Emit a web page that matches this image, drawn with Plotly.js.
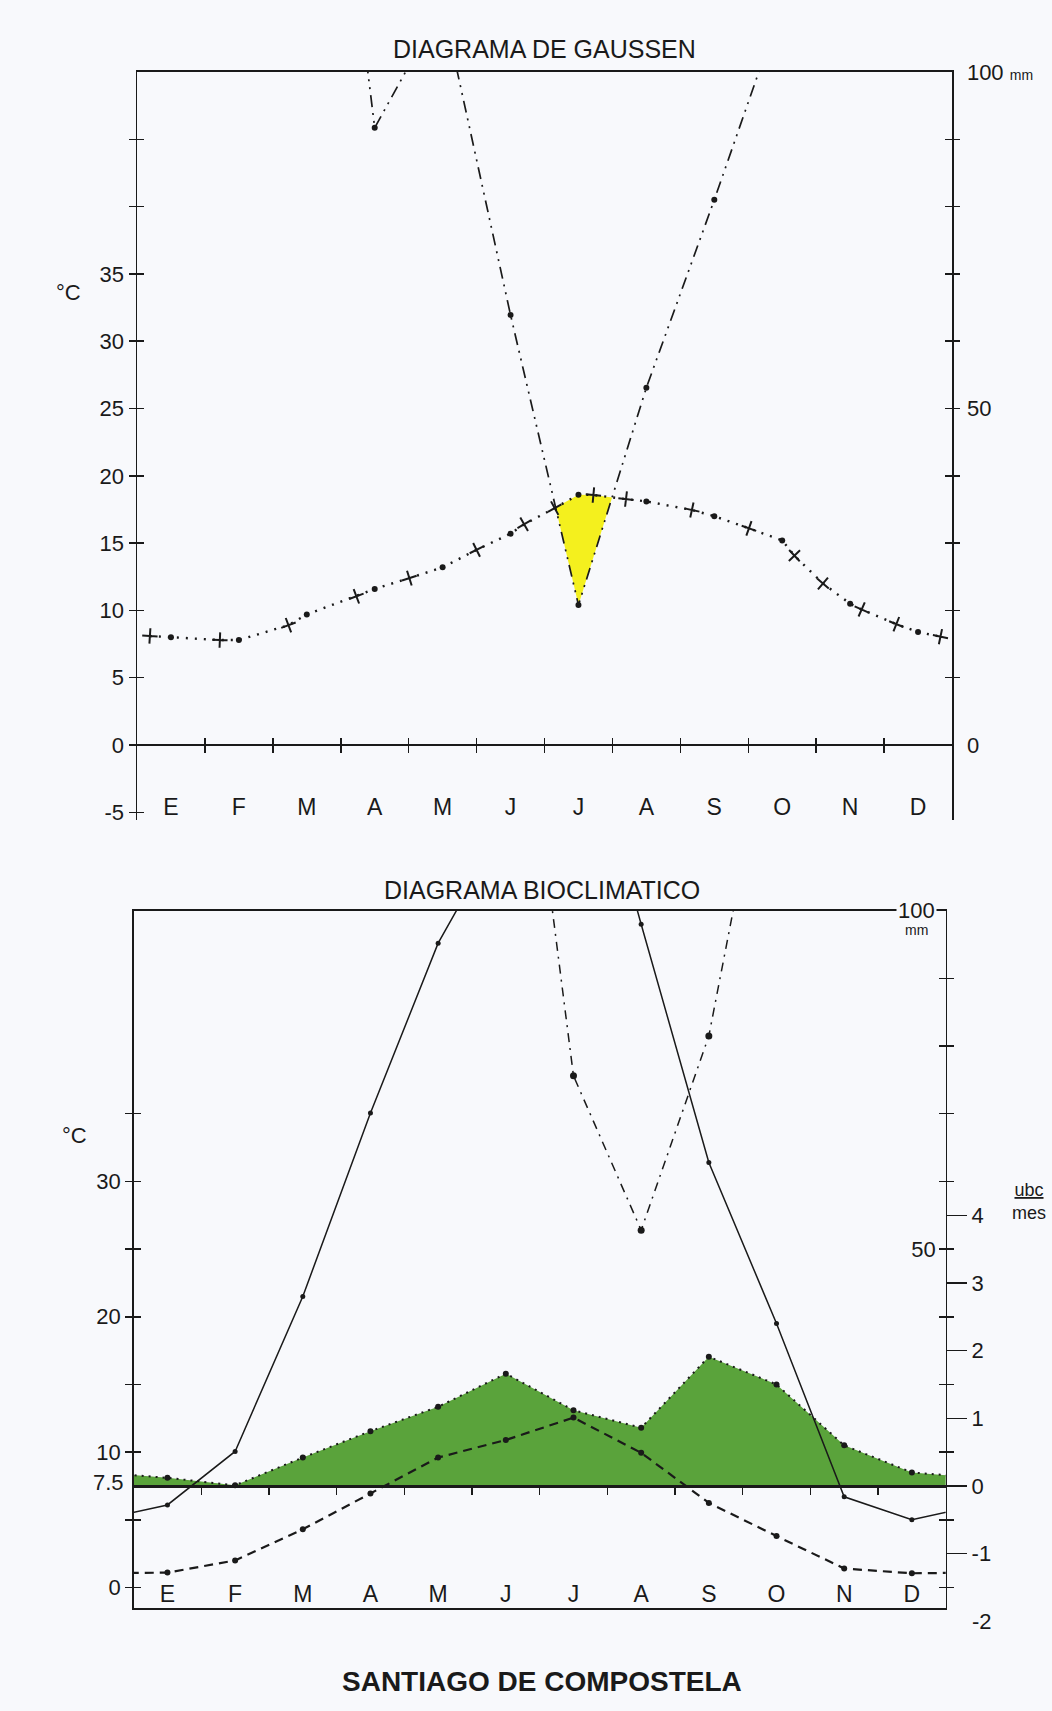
<!DOCTYPE html>
<html><head><meta charset="utf-8">
<script src="https://cdn.plot.ly/plotly-3.0.1.min.js"></script>
<style>html,body{margin:0;padding:0;background:#f8f9fc;}#chart{width:1052px;height:1711px;}</style>
</head><body><div id="chart"></div>
<script>
// ================= DATA =================
const meses  = ['E','F','M','A','M','J','J','A','S','O','N','D'];
const mesNum = [1,2,3,4,5,6,7,8,9,10,11,12];

// --- Diagrama de Gaussen ---
const tempMedia   = [8.0, 7.8, 9.7, 11.6, 13.2, 15.7, 18.6, 18.1, 17.0, 15.2, 10.5, 8.4];      // °C (puntos)
const tempCrucesX = [0.69,1.72,2.73,3.73,4.51,5.5,6.2,6.65,7.22,7.7,8.67,9.51,10.18,10.6,11.17,11.68,12.33];
const tempCrucesY = [8.1, 7.8, 8.9, 11.05,12.4,14.5,16.4,17.6,18.57,18.27,17.46,16.1,14.07,12.0,10.07,8.98,8.05];
const precipGaussen = [200, 190, 174, 91.7, 110, 63.9, 20.8, 53.1, 81.0, 110, 190, 210];   // mm (E,F,N,D fuera de escala)

// --- Diagrama bioclimatico ---
const curvaContinua  = [12.2, 20.1, 43.0, 70.1, 95.2, 113, 134, 98, 62.8, 39.0, 13.4, 10.0]; // mm
const curvaPuntoRaya = [220, 200, 190, 180, 170, 154, 75.6, 52.8, 81.5, 133, 190, 210];      // mm
const ibPotencial    = [0.12, 0.01, 0.42, 0.81, 1.17, 1.66, 1.12, 0.86, 1.91, 1.50, 0.60, 0.20]; // ubc/mes
const ibLibre        = [-1.28,-1.10,-0.64,-0.11, 0.42, 0.68, 1.01, 0.49,-0.25,-0.74,-1.22,-1.29]; // ubc/mes

// --- ticks ---
const gTempTicks  = [-5,0,5,10,15,20,25,30,35,40,45];
const gTempLabels = ['-5','0','5','10','15','20','25','30','35','',''];
const gPrecTicks  = [0,10,20,30,40,50,60,70,80,90,100];
const gPrecLabelVals = [0,50,100];
const gPrecLabels = ['0','50','100 <span style="font-size:14px">mm</span>'];
const bTempTicks  = [0,5,10,15,20,25,30,35];
const bTempLabels = ['0','','10','','20','','30',''];
const bUbcTicks   = [-1,0,1,2,3,4];
const bUbcHalf    = [-1.5,-0.5,0.5,1.5,2.5,3.5,4.5];
const bMmTicks    = [60,70,80,90];
const bMmLabelVal = 50;
const bUbcBelow   = -2;

// ================= LAYOUT CONSTANTS =================
const W = 1052, H = 1711;
const bg = '#f8f9fc', ink = '#1a1a1a';
const topBox = {x0:137, x1:952, yTop:72, yBot:820.4};
const botBox = {x0:133.6, x1:945.7, yTop:910.7, yBot:1607.8};
const dom = b => [(H - b.yBot)/H, (H - b.yTop)/H];
const topX = [topBox.x0/W, topBox.x1/W], topY = dom(topBox);
const botX = [botBox.x0/W, botBox.x1/W], botY = dom(botBox);
const xRange = [0.5, 12.5];
const topT = [-5.6, 50], topMm = [topT[0]*2, topT[1]*2];
const botT = [-1.5, 50];
const toUbc = t => (t - 7.5)/5;           // 1 ubc = 5 °C, 0 ubc = 7.5 °C
const mmToUbc = mm => toUbc(mm/2);        // P = 2T
const botUbc = [toUbc(botT[0]), toUbc(botT[1])];
const botMm = [botT[0]*2, botT[1]*2];
const paperY = (d, r, v) => d[0] + (v - r[0])/(r[1]-r[0])*(d[1]-d[0]);
const limites = mesNum.slice(0,-1).map(m => m + 0.5);

// ================= DERIVED =================
const tAll = mesNum.map((x,i)=>({x, y:tempMedia[i]}))
  .concat(tempCrucesX.map((x,i)=>({x, y:tempCrucesY[i]})))
  .sort((a,b)=>a.x-b.x);
const tLineX = tAll.map(p=>p.x), tLineY = tAll.map(p=>p.y);
const pHalf = precipGaussen.map(v => v/2);

function lin(xs, ys, x){
  for (let i=0;i<xs.length-1;i++) if (x>=xs[i] && x<=xs[i+1])
    return ys[i] + (x-xs[i])/(xs[i+1]-xs[i])*(ys[i+1]-ys[i]);
  return NaN;
}
function zonaSeca(tx, ty, px, py){
  const lo = Math.max(tx[0], px[0]), hi = Math.min(tx[tx.length-1], px[px.length-1]);
  const xs = [...new Set([...tx, ...px])].filter(x=>x>=lo && x<=hi).sort((a,b)=>a-b);
  const pts = [];
  xs.forEach((x,i)=>{
    const d = lin(tx,ty,x) - lin(px,py,x);
    if (i>0){ const p = pts[pts.length-1];
      if (p.d*d < 0) pts.push({x: p.x + (x-p.x)*p.d/(p.d-d), d:0}); }
    pts.push({x, d});
  });
  const ox=[], oy=[]; let cur=[];
  const flush = () => {
    if (cur.length>1 && cur.some(p=>p.d>0)){
      cur.forEach(p=>{ox.push(p.x); oy.push(lin(tx,ty,p.x));});
      cur.slice().reverse().forEach(p=>{ox.push(p.x); oy.push(lin(px,py,p.x));});
      ox.push(null); oy.push(null);
    }
    cur=[];
  };
  pts.forEach(p=>{ if (p.d>=0) cur.push(p); else flush(); });
  flush();
  return {x:ox, y:oy};
}
const seca = zonaSeca(tLineX, tLineY, mesNum, pHalf);

// cross orientation along the curve
const pxX = (topBox.x1-topBox.x0)/(xRange[1]-xRange[0]);
const pxY = (topBox.yBot-topBox.yTop)/(topT[1]-topT[0]);
const crossAngles = tempCrucesX.map(x=>{
  const i = tLineX.indexOf(x);
  const a = Math.max(0,i-1), b = Math.min(tLineX.length-1,i+1);
  const s = (tLineY[b]-tLineY[a])*pxY/((tLineX[b]-tLineX[a])*pxX);
  return -Math.atan(s)*180/Math.PI;
});

const xWrap = [0, ...mesNum, 13];
const wrap = a => [a[a.length-1], ...a, a[0]];

// ================= TRACES =================
const empty = (xa, ya) => ({x:[], y:[], xaxis:xa, yaxis:ya, mode:'lines', hoverinfo:'skip', showlegend:false});
const traces = [
  // --- Gaussen ---
  {x:seca.x, y:seca.y, xaxis:'x', yaxis:'y', mode:'lines', fill:'toself',
   fillcolor:'#f4f01e', line:{width:0, color:'rgba(0,0,0,0)'}, hoverinfo:'skip'},
  {x:tLineX, y:tLineY, xaxis:'x', yaxis:'y', mode:'lines',
   line:{color:ink, width:2.4, dash:'2px,7px'}},
  {x:mesNum, y:tempMedia, xaxis:'x', yaxis:'y', mode:'markers',
   marker:{symbol:'circle', size:6, color:ink}},
  {x:tempCrucesX, y:tempCrucesY, xaxis:'x', yaxis:'y', mode:'markers',
   marker:{symbol:'cross-thin', size:11, angle:crossAngles, color:ink, line:{width:2, color:ink}}},
  {x:mesNum, y:precipGaussen, xaxis:'x', yaxis:'y2', mode:'lines+markers',
   line:{color:ink, width:1.7, dash:'12px,6px,2px,6px,2px,6px'},
   marker:{symbol:'circle', size:6, color:ink}},
  // --- Bioclimatico ---
  empty('x2','y7'),
  {x:xWrap, y:wrap(ibPotencial), xaxis:'x2', yaxis:'y9', mode:'lines+markers', fill:'tozeroy',
   fillcolor:'#5aa33b', line:{color:ink, width:2, dash:'2px,5px'},
   marker:{symbol:'circle', size:6, color:ink}},
  {x:xWrap, y:wrap(ibLibre), xaxis:'x2', yaxis:'y9', mode:'lines+markers',
   line:{color:ink, width:2.2, dash:'9px,6px'}, marker:{symbol:'circle', size:6, color:ink}},
  {x:xWrap, y:wrap(curvaContinua), xaxis:'x2', yaxis:'y13', mode:'lines+markers',
   line:{color:ink, width:1.5}, marker:{symbol:'circle', size:5, color:ink}},
  {x:mesNum, y:curvaPuntoRaya, xaxis:'x2', yaxis:'y13', mode:'lines+markers',
   line:{color:ink, width:1.5, dash:'9px,6px,2px,6px'}, marker:{symbol:'circle', size:7, color:ink}}
];
// empty traces so that every decorative overlay axis gets its own subplot and is drawn
[['x3','y'],['x5','y'],['x7','y'],['x','y3'],['x','y4'],['x','y6'],
 ['x4','y7'],['x6','y7'],['x2','y8'],['x2','y10'],['x2','y11'],['x2','y12']].forEach(([xa,ya])=>
  traces.push(empty(xa, ya)));

// ================= AXES =================
const base = {showgrid:false, zeroline:false, fixedrange:true, tickcolor:ink, tickwidth:1.5, linecolor:ink};
const fTick = {size:22, color:ink};
const layout = {
  width:W, height:H, margin:{l:0,r:0,t:0,b:0,pad:0},
  paper_bgcolor:bg, plot_bgcolor:bg, showlegend:false,
  font:{family:'"Liberation Sans", Arial, Helvetica, sans-serif', color:ink},
  // ---- top chart ----
  xaxis: {...base, domain:topX, range:xRange, anchor:'y', tickvals:mesNum, ticktext:meses, ticks:'',
          showline:false, tickfont:{size:23}, ticklabelstandoff:-29},
  xaxis3:{...base, overlaying:'x', anchor:'free', position:paperY(topY, topT, 0), range:xRange,
          tickvals:limites, ticks:'outside', ticklen:7, showticklabels:false, showline:true, linewidth:2.2, layer:'above traces'},
  xaxis5:{...base, overlaying:'x', anchor:'free', position:paperY(topY, topT, 0), range:xRange,
          tickvals:limites, ticks:'inside', ticklen:7, showticklabels:false, showline:false},
  xaxis7:{...base, overlaying:'x', anchor:'y', side:'top', range:xRange, ticks:'', showticklabels:false,
          showline:true, linewidth:2.4},
  yaxis: {...base, domain:topY, range:topT, anchor:'x', side:'left', showline:true, linewidth:1.5,
          ticks:'outside', ticklen:7, tickvals:gTempTicks, ticktext:gTempLabels, tickfont:fTick, layer:'above traces'},
  yaxis3:{...base, overlaying:'y', anchor:'x', side:'left', range:topT, ticks:'inside', ticklen:7,
          tickvals:gTempTicks, showticklabels:false, showline:false},
  yaxis2:{...base, overlaying:'y', anchor:'x', side:'right', range:topMm, showline:true, linewidth:1.5,
          ticks:'', tickvals:gPrecLabelVals, ticktext:gPrecLabels, tickfont:fTick, ticklabelstandoff:9, layer:'above traces'},
  yaxis4:{...base, overlaying:'y', anchor:'x', side:'right', range:topMm, ticks:'outside', ticklen:7,
          tickvals:gPrecTicks.filter(v=>v>0 && v<100), showticklabels:false, showline:false},
  yaxis6:{...base, overlaying:'y', anchor:'x', side:'right', range:topMm, ticks:'inside', ticklen:7,
          tickvals:gPrecTicks.filter(v=>v>0 && v<100), showticklabels:false, showline:false},
  // ---- bottom chart ----
  xaxis2:{...base, domain:botX, range:xRange, anchor:'y7', tickvals:mesNum, ticktext:meses, ticks:'',
          showline:true, linewidth:2.2, tickfont:{size:23}, ticklabelstandoff:-36, layer:'above traces'},
  xaxis4:{...base, overlaying:'x2', anchor:'free', position:paperY(botY, botT, 7.5), range:xRange,
          tickvals:limites, ticks:'outside', ticklen:7, showticklabels:false, showline:true, linewidth:2.6, layer:'above traces'},
  xaxis6:{...base, overlaying:'x2', anchor:'y7', side:'top', range:xRange, ticks:'', showticklabels:false,
          showline:true, linewidth:2.2},
  yaxis7:{...base, domain:botY, range:botT, anchor:'x2', side:'left', showline:true, linewidth:1.5,
          ticks:'outside', ticklen:7, tickvals:bTempTicks, ticktext:bTempLabels, tickfont:fTick, layer:'above traces'},
  yaxis8:{...base, overlaying:'y7', anchor:'x2', side:'left', range:botT, ticks:'inside', ticklen:7,
          tickvals:bTempTicks, showticklabels:false, showline:false},
  yaxis9:{...base, overlaying:'y7', anchor:'x2', side:'right', range:botUbc, showline:true, linewidth:1.5,
          ticks:'outside', ticklen:20, tickvals:bUbcTicks, ticktext:bUbcTicks.map(String), tickfont:fTick, layer:'above traces'},
  yaxis10:{...base, overlaying:'y7', anchor:'x2', side:'right', range:botUbc, ticks:'outside', ticklen:7,
          tickvals:[...bUbcHalf, ...bMmTicks.map(mmToUbc)], showticklabels:false, showline:false},
  yaxis11:{...base, overlaying:'y7', anchor:'x2', side:'right', range:botUbc, ticks:'inside', ticklen:7,
          tickvals:[...bUbcHalf, ...bMmTicks.map(mmToUbc)], showticklabels:false, showline:false},
  // mm label drawn just inside the right axis (a left-side axis placed on the right edge)
  yaxis12:{...base, overlaying:'y7', anchor:'free', position:botX[1], side:'left', range:botUbc, ticks:'',
          tickvals:[mmToUbc(bMmLabelVal)], ticktext:[String(bMmLabelVal)],
          ticklabelstandoff:10, tickfont:fTick, showline:false},
  yaxis13:{...base, overlaying:'y7', anchor:'x2', side:'right', range:botMm, visible:false},
  annotations:[
    {text:'DIAGRAMA DE GAUSSEN', xref:'x domain', yref:'y domain', x:0.5, y:1, yshift:23,
     xanchor:'center', yanchor:'middle', showarrow:false, font:{size:25}},
    {text:'DIAGRAMA BIOCLIMATICO', xref:'x2 domain', yref:'y7 domain', x:0.5, y:1, yshift:21, xshift:2,
     xanchor:'center', yanchor:'middle', showarrow:false, font:{size:25}},
    {text:'<b>SANTIAGO DE COMPOSTELA</b>', xref:'x2 domain', yref:'y7 domain', x:0.5, y:0, yshift:-74, xshift:2,
     xanchor:'center', yanchor:'middle', showarrow:false, font:{size:28}},
    {text:'°C', xref:'x domain', yref:'y', x:0, y:33.6, xshift:-69, xanchor:'center', yanchor:'middle',
     showarrow:false, font:{size:22}},
    {text:'°C', xref:'x2 domain', yref:'y7', x:0, y:33.4, xshift:-59, xanchor:'center', yanchor:'middle',
     showarrow:false, font:{size:22}},
    {text:'7.5', xref:'x2 domain', yref:'y7', x:0, y:7.5, xanchor:'right', yanchor:'middle', xshift:-8, yshift:3,
     showarrow:false, font:{size:22}},
    {text:String(bUbcBelow), xref:'x2 domain', yref:'y7 domain', x:1,
     y:(bUbcBelow-botUbc[0])/(botUbc[1]-botUbc[0]), xshift:36, xanchor:'center', yanchor:'middle',
     showarrow:false, font:{size:22}},
    {text:'100', xref:'x2 domain', yref:'y7 domain', x:1, y:1, xshift:-29, xanchor:'center', yanchor:'middle',
     showarrow:false, bgcolor:bg, borderpad:1, font:{size:22}},
    {text:'mm', xref:'x2 domain', yref:'y7 domain', x:1, y:1, xshift:-29, yshift:-19, xanchor:'center',
     yanchor:'middle', showarrow:false, font:{size:14}},
    {text:'<u>ubc</u><br>mes', xref:'x2 domain', yref:'y9', x:1, y:4.2, xshift:83, xanchor:'center',
     yanchor:'middle', showarrow:false, font:{size:18}}
  ]
};

Plotly.newPlot('chart', traces, layout, {staticPlot:true, displayModeBar:false});
</script></body></html>
